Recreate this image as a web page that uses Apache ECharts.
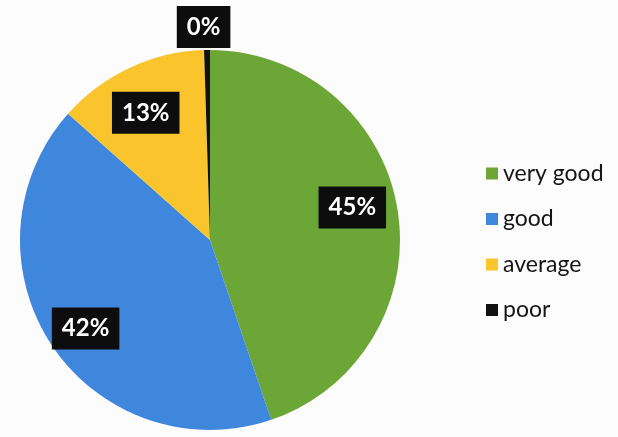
<!DOCTYPE html>
<html>
<head>
<meta charset="utf-8">
<script src="https://cdn.jsdelivr.net/npm/echarts@6/dist/echarts.min.js"></script>
<style>
html,body{margin:0;padding:0;background:#fcfcfc;}
#c{width:618px;height:437px;}
</style>
</head>
<body>
<div id="c"></div>
<script>
var categories = ['very good', 'good', 'average', 'poor'];
var values = [45, 42, 13, 0.5];
var colors = ['#6ca636', '#3f87dc', '#f9c42c', '#111111'];

var chart = echarts.init(document.getElementById('c'), null, {renderer: 'canvas'});

var baseData = categories.map(function (n, i) {
  return { name: n, value: values[i], itemStyle: { color: colors[i] } };
});

var labelStyle = {
  color: '#ffffff',
  fontFamily: 'Lato',
  fontWeight: 'bold',
  fontSize: 24,
  lineHeight: 24,
  backgroundColor: '#0d0d0d',
  padding: [9, 10],
  formatter: '{d}%'
};

function overlayData(showIdx) {
  return categories.map(function (n, i) {
    return {
      name: n,
      value: values[i],
      itemStyle: { color: 'rgba(0,0,0,0)' },
      label: { show: showIdx(i) }
    };
  });
}

var C = [210, 240];
var R = 190;
var labelShift = [[-5, -8], [0, 6], [-1, 8], [-3, 5]];

chart.setOption({
  backgroundColor: '#fcfcfc',
  animation: false,
  legend: {
    orient: 'vertical',
    left: 481,
    top: 157,
    itemWidth: 12,
    itemHeight: 12,
    itemGap: 22.5,
    icon: 'rect',
    data: categories,
    textStyle: { fontFamily: 'Lato', fontSize: 23, lineHeight: 22, color: '#151515' },
    selectedMode: false
  },
  series: [
    {
      type: 'pie',
      center: C,
      radius: R,
      startAngle: 90,
      clockwise: true,
      silent: true,
      label: { show: false },
      labelLine: { show: false },
      itemStyle: { borderWidth: 0 },
      emphasis: { disabled: true },
      data: baseData
    },
    {
      type: 'pie',
      center: C,
      radius: [R * 0.54, R],
      startAngle: 90,
      clockwise: true,
      silent: true,
      percentPrecision: 0,
      label: Object.assign({ position: 'inside' }, labelStyle),
      labelLine: { show: false },
      emphasis: { disabled: true },
      labelLayout: function (p) {
        var s = labelShift[p.dataIndex];
        return { dx: s[0], dy: s[1] };
      },
      data: overlayData(function (i) { return i < 3; })
    },
    {
      type: 'pie',
      center: C,
      radius: [R + 7, R + 43],
      startAngle: 90,
      clockwise: true,
      silent: true,
      percentPrecision: 0,
      label: Object.assign({ position: 'inside' }, labelStyle),
      labelLine: { show: false },
      emphasis: { disabled: true },
      labelLayout: function (p) {
        var s = labelShift[p.dataIndex];
        return { dx: s[0], dy: s[1] };
      },
      data: overlayData(function (i) { return i === 3; })
    }
  ]
});
</script>
</body>
</html>
